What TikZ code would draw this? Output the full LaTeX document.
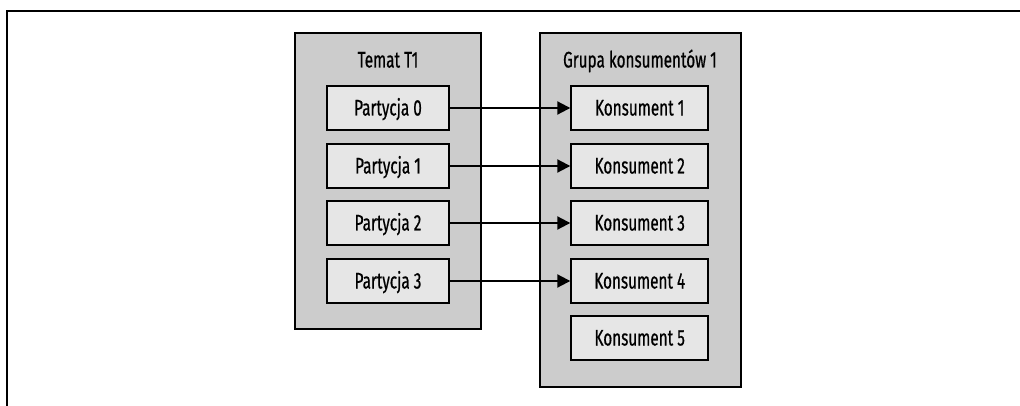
\documentclass[tikz,border=0pt]{standalone}
\usepackage{fontspec}
\setmainfont{Fira Sans}[FakeStretch=0.68, FakeBold=0.6]
\usetikzlibrary{arrows.meta}
\definecolor{outerfill}{HTML}{CCCCCC}
\definecolor{innerfill}{HTML}{E6E6E6}
\tikzset{
  outerbox/.style={draw=black, line width=1.8pt, fill=outerfill, minimum width=#1, inner sep=0pt, anchor=center},
  smallbox/.style={draw=black, line width=1.8pt, fill=innerfill, minimum height=44pt, inner sep=0pt,
    font=\fontsize{22.5}{25}\selectfont, text height=15pt, text depth=0pt},
  title/.style={font=\fontsize{22.5}{25}\selectfont, text height=15pt, text depth=0pt, inner sep=0pt},
  link/.style={line width=2pt, -{Triangle[length=13pt,width=13pt]}},
  frame/.style={line width=2pt}
}
\begin{document}
\begin{tikzpicture}[x=1pt,y=-1pt]
\useasboundingbox (0,0) rectangle (1020,406);
% frame
\coordinate (fa) at (1021,11);
\coordinate (fb) at (7,11);
\coordinate (fc) at (7,407);
\draw[frame] (fa) -- (fb) -- (fc);
% outer boxes
\node[outerbox=186pt, minimum height=296pt] (topic) at (388,181) {};
\node[outerbox=201pt, minimum height=354pt] (group) at (640.5,210) {};
\node[title] (tt) at (388,60) {Temat T1};
\node[title] (gt) at (640,60) {Grupa konsumentów 1};
% partitions
\foreach \i/\y in {0/108,1/166,2/223,3/281}{
  \node[smallbox, minimum width=122pt] (p\i) at (388,\y) {Partycja \i};
}
\foreach \i/\y in {1/108,2/166,3/223,4/281,5/338}{
  \node[smallbox, minimum width=137pt] (k\i) at (639.7,\y) {Konsument \i};
}
\draw[link] (p0) -- (k1);
\draw[link] (p1) -- (k2);
\draw[link] (p2) -- (k3);
\draw[link] (p3) -- (k4);
\end{tikzpicture}
\end{document}
